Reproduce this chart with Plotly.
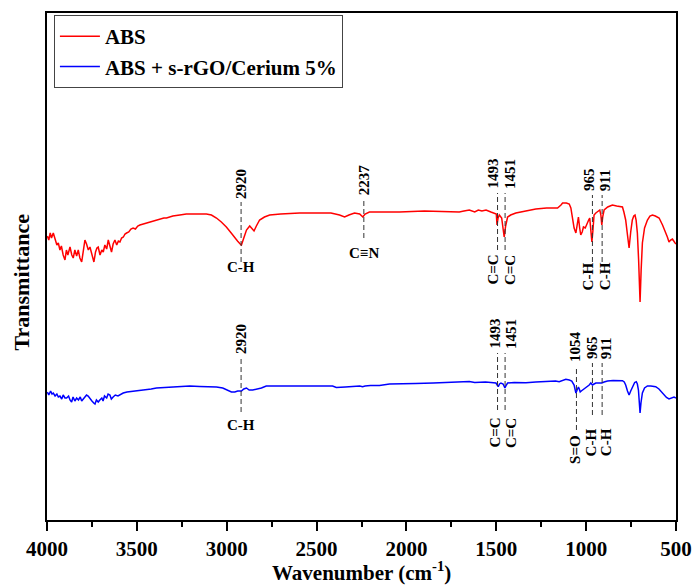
import plotly.graph_objects as go

# ---------------- data (transmittance in a.u.) ----------------
abs_wn = [3998, 3990, 3982, 3975, 3965, 3955, 3945, 3937, 3928, 3920, 3910, 3900, 3892, 3884, 3872, 3862,
          3854, 3845, 3835, 3826, 3817, 3807, 3798, 3789, 3780, 3770, 3761, 3750, 3739, 3730, 3722, 3715,
          3705, 3695, 3687, 3678, 3668, 3659, 3650, 3641, 3632, 3622, 3612, 3603, 3594, 3585, 3575, 3566,
          3557, 3545, 3533, 3521, 3508, 3495, 3483, 3465, 3447, 3428, 3410, 3390, 3370, 3350, 3335, 3300,
          3261, 3225, 3187, 3150, 3113, 3085, 3057, 3030, 3002, 2975, 2955, 2940, 2925, 2918, 2905, 2890,
          2872, 2860, 2848, 2835, 2817, 2790, 2761, 2700, 2594, 2500, 2420, 2372, 2344, 2320, 2289, 2260,
          2243, 2230, 2206, 2100, 2039, 1900, 1761, 1706, 1680, 1650, 1620, 1600, 1580, 1557, 1530, 1511,
          1500, 1496, 1490, 1483, 1470, 1456, 1448, 1437, 1420, 1391, 1340, 1280, 1220, 1159, 1140, 1131,
          1110, 1094, 1085, 1076, 1067, 1057, 1050, 1043, 1036, 1030, 1022, 1015, 1005, 993, 986, 980,
          974, 968, 962, 956, 946, 937, 924, 918, 913, 907, 900, 880, 854, 830, 810, 798,
          790, 780, 770, 761, 752, 743, 735, 728, 722, 715, 708, 700, 694, 687, 675, 659,
          645, 631, 615, 594, 575, 557, 548, 539, 530, 520, 512, 505, 500]
abs_t = [284, 280, 287, 282, 287, 280, 275, 277, 270, 274, 265, 260, 270, 265, 273, 265,
         262, 270, 264, 270, 262, 258, 268, 280, 276, 270, 273, 265, 258, 268, 272, 273,
         265, 270, 268, 275, 271, 280, 273, 268, 276, 280, 275, 279, 278, 282, 283, 286,
         287, 288, 291, 292, 291, 294, 295, 296, 297, 298, 299, 300, 301, 302, 302, 304,
         305, 306, 306, 306, 306, 305, 302, 298, 293, 287, 282, 279, 276, 275, 282, 290,
         294, 292, 289, 294, 300, 303, 305, 306, 307, 307, 307, 305, 303, 305, 307, 306,
         303, 306, 308, 308, 308, 309, 308, 308, 309, 310, 308, 310, 309, 310, 308, 307,
         306, 295, 302, 305, 302, 283, 294, 303, 305, 307, 309, 311, 312, 312, 315, 317,
         317, 316, 312, 303, 292, 287, 295, 303, 292, 285, 288, 293, 292, 298, 300, 302,
         292, 278, 290, 305, 307, 308, 310, 305, 295, 304, 310, 313, 315, 314, 313, 313,
         308, 300, 285, 272, 288, 300, 304, 305, 300, 287, 260, 218, 250, 277, 292, 300,
         304, 305, 304, 302, 295, 288, 283, 278, 280, 281, 278, 277, 276]

comp_wn = [3998, 3990, 3980, 3972, 3965, 3955, 3945, 3937, 3928, 3918, 3910, 3900, 3891, 3880, 3872, 3863,
           3855, 3845, 3835, 3825, 3815, 3807, 3798, 3790, 3780, 3771, 3760, 3750, 3740, 3733, 3725, 3715,
           3706, 3695, 3688, 3680, 3668, 3660, 3650, 3642, 3632, 3620, 3605, 3590, 3576, 3555, 3530, 3505,
           3483, 3450, 3420, 3391, 3350, 3298, 3250, 3206, 3150, 3100, 3057, 3022, 2995, 2974, 2955, 2939,
           2918, 2905, 2890, 2875, 2855, 2830, 2807, 2780, 2700, 2600, 2500, 2411, 2390, 2372, 2340, 2300,
           2260, 2244, 2230, 2200, 2150, 2094, 2039, 1950, 1850, 1760, 1706, 1680, 1650, 1620, 1594, 1560,
           1530, 1502, 1495, 1489, 1482, 1474, 1462, 1452, 1444, 1437, 1400, 1335, 1280, 1224, 1170, 1150,
           1113, 1094, 1080, 1067, 1057, 1050, 1043, 1038, 1033, 1027, 1020, 1008, 993, 983, 974, 965,
           956, 946, 930, 913, 900, 881, 850, 820, 798, 788, 780, 770, 761, 752, 743, 730,
           721, 715, 709, 704, 700, 695, 687, 675, 659, 640, 613, 595, 580, 567, 553, 539,
           525, 511, 500]
comp_t = [128, 125, 129, 126, 127, 124, 126, 123, 124, 121, 125, 122, 122, 124, 120, 118,
          123, 119, 122, 120, 123, 119, 121, 123, 125, 124, 121, 119, 117, 116, 120, 118,
          120, 122, 119, 124, 122, 126, 125, 121, 123, 125, 124, 126, 127, 128, 128.5, 129,
          129, 130, 131, 132, 132.5, 133, 133.5, 134, 133.5, 133.5, 133, 132, 130, 128, 128, 129,
          129, 131, 132, 130, 130, 131, 132, 134, 134, 134, 134, 134, 132.5, 132.5, 133, 133.5,
          134, 133.3, 134, 134.5, 134.5, 136, 136, 136.5, 137, 137.5, 138, 138, 138.5, 137.5, 138, 138,
          137.5, 137, 135, 133.3, 136, 137, 136, 132, 135, 137, 137.5, 137.3, 138, 138.3, 139, 138.3,
          140.7, 140, 139, 135, 127, 130, 133, 131, 128, 129, 130, 131, 133, 135, 137, 135,
          136, 137, 137, 137, 138, 139, 139.5, 139.5, 139.3, 138, 135, 129, 125, 129, 133.3, 137.5,
          138.3, 136, 130, 118, 107, 117, 127, 132, 134, 134, 133.3, 131, 128, 125, 122.5, 121,
          122, 123, 122]

series_names = ["ABS", "ABS + s-rGO/Cerium 5%"]
series_colors = ["#ff0000", "#0000ff"]

x_ticks = [4000, 3500, 3000, 2500, 2000, 1500, 1000, 500]

# peak annotations: wavenumber, bond label
abs_peaks = [2920, 2237, 1493, 1451, 965, 911]
abs_bonds = ["C-H", "C≡N", "C=C", "C=C", "C-H", "C-H"]
comp_peaks = [2920, 1493, 1451, 1054, 965, 911]
comp_bonds = ["C-H", "C=C", "C=C", "S=O", "C-H", "C-H"]

# ---------------- layout helpers (positions) ----------------
# (number bottom, dash top, dash bottom, bond y, bond rotated?, label x shift px)
abs_pos = [(319, 318, 258, 253, False, 0), (323, 321, 282, 267, False, 0),
           (329, 327, 270, 267, True, -5), (329, 327, 270, 267, True, 5),
           (327, 325, 258, 260, True, -4), (327, 325, 258, 260, True, 3)]
comp_pos = [(164, 162, 108, 95, False, 0),
            (169, 167, 110, 104, True, -3), (169, 167, 110, 104, True, 6),
            (156, 154, 90, 87, True, -2),
            (159, 157, 105, 94, True, -1), (159, 157, 105, 94, True, 4)]

FONT = "Liberation Serif"

fig = go.Figure()
fig.add_trace(go.Scatter(x=abs_wn, y=abs_t, mode="lines", name=series_names[0],
                         line=dict(color=series_colors[0], width=1.5)))
fig.add_trace(go.Scatter(x=comp_wn, y=comp_t, mode="lines", name=series_names[1],
                         line=dict(color=series_colors[1], width=1.5)))

annotations = []
shapes = []
for peaks, bonds, pos in [(abs_peaks, abs_bonds, abs_pos), (comp_peaks, comp_bonds, comp_pos)]:
    for wn, bond, (nb, dt, db, by, rot, xs) in zip(peaks, bonds, pos):
        shapes.append(dict(type="line", xref="x", yref="y", x0=wn, x1=wn, y0=db, y1=dt,
                           line=dict(color="#333333", width=1, dash="5px,3px")))
        annotations.append(dict(x=wn, y=nb, xref="x", yref="y", text=str(wn), showarrow=False,
                                textangle=-90, xanchor="center", yanchor="bottom", xshift=xs,
                                font=dict(family=FONT, size=15, color="black", weight="bold")))
        if rot:
            annotations.append(dict(x=wn, y=by, xref="x", yref="y", text=bond, showarrow=False,
                                    textangle=-90, xanchor="center", yanchor="top", xshift=xs,
                                    font=dict(family=FONT, size=15, color="black", weight="bold")))
        else:
            annotations.append(dict(x=wn, y=by, xref="x", yref="y", text=bond, showarrow=False,
                                    xanchor="center", yanchor="middle",
                                    font=dict(family=FONT, size=15, color="black", weight="bold")))

# axis titles
annotations.append(dict(x=0.5, y=0, xref="paper", yref="paper", yshift=-51,
                        text="Wavenumber (cm<sup>-1</sup>)", showarrow=False,
                        xanchor="center", yanchor="middle",
                        font=dict(family=FONT, size=21, color="black", weight="bold")))
annotations.append(dict(x=0, y=0.5, xref="paper", yref="paper", xshift=-26, yshift=-16,
                        text="Transmittance", showarrow=False, textangle=-90,
                        xanchor="center", yanchor="middle",
                        font=dict(family=FONT, size=22, color="black", weight="bold")))

fig.update_layout(
    width=694, height=585, autosize=False,
    margin=dict(l=47, r=18, t=13, b=65),
    paper_bgcolor="white", plot_bgcolor="white",
    showlegend=True,
    legend=dict(x=0.011, y=0.996, xanchor="left", yanchor="top",
                bgcolor="white", bordercolor="#444444", borderwidth=1,
                font=dict(family=FONT, size=21, color="black", weight="bold"),
                tracegroupgap=0, itemwidth=40),
    annotations=annotations,
    shapes=shapes,
)
fig.update_xaxes(range=[4000, 500], tickvals=x_ticks, ticktext=[str(v) for v in x_ticks],
                 automargin=False,
                 showgrid=False, zeroline=False, showline=True, linecolor="black", linewidth=1.5,
                 mirror=True, ticks="outside", ticklen=9, tickwidth=1.5, tickcolor="black",
                 tickfont=dict(family=FONT, size=21, color="black", weight="bold"),
                 minor=dict(dtick=250, tick0=500, ticks="outside", ticklen=5, tickwidth=1.5,
                            tickcolor="black", showgrid=False))
fig.update_yaxes(range=[0, 507], automargin=False, showticklabels=False, ticks="", showgrid=False,
                 zeroline=False, showline=True, linecolor="black", linewidth=1.5, mirror=True)

fig.write_html("out.html",
               config={"displayModeBar": False, "responsive": False},
               post_script="document.body.style.margin='0';document.body.style.overflow='hidden';"
                           "document.documentElement.style.overflow='hidden';")
